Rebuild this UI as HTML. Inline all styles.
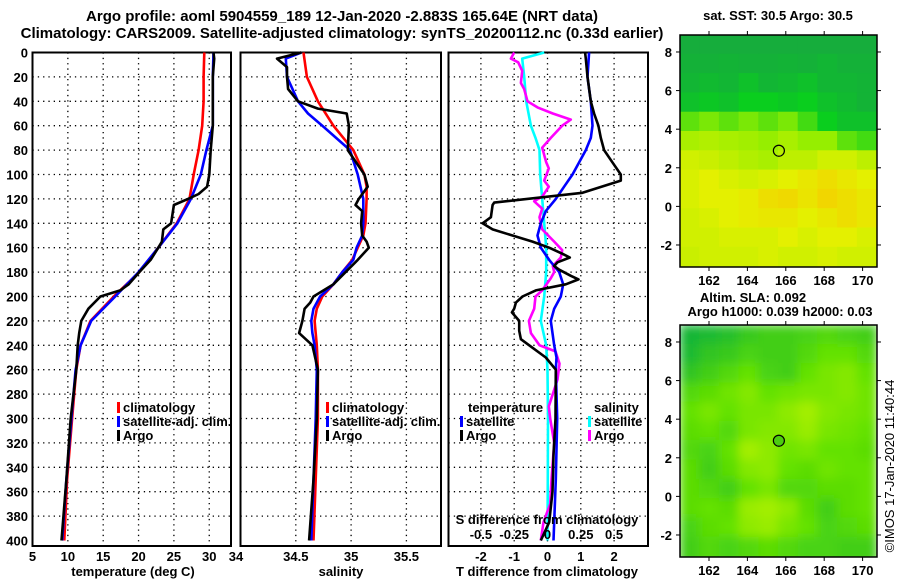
<!DOCTYPE html>
<html><head><meta charset="utf-8"><style>
body{margin:0;background:#fff}
svg{display:block}
text{font-family:"Liberation Sans",Arial,sans-serif;font-weight:bold;font-size:13px;fill:#000}
</style></head><body>
<svg id="c" width="900" height="580" viewBox="0 0 900 580" xmlns="http://www.w3.org/2000/svg">
<text x="342" y="21" text-anchor="middle" style="font-size:15px">Argo profile: aoml 5904559_189 12-Jan-2020 -2.883S 165.64E (NRT data)</text>
<text x="342" y="38" text-anchor="middle" style="font-size:15px">Climatology: CARS2009. Satellite-adjusted climatology: synTS_20200112.nc (0.33d earlier)</text>
<g id="layer"></g>
</svg>
<script>
// ---- depth grid
const depthTicks=[0,20,40,60,80,100,120,140,160,180,200,220,240,260,280,300,320,340,360,380,400];
// ---- temperature panel data
const tClimDepth=[0,20,40,60,80,100,120,140,160,180,200,220,240,260,300,350,400];
const tClim=[29.3,29.2,29.2,29.0,28.5,27.8,27.2,25.4,22.8,20.1,16.5,13.2,11.8,11.2,10.6,9.9,9.5];
const tSatDepth=[0,20,40,60,80,100,120,140,160,180,200,220,240,260,300,350,400];
const tSat=[30.6,30.5,30.5,30.5,29.6,28.8,27.4,25.5,22.8,20.0,16.7,13.3,11.8,11.1,10.5,9.8,9.2];
const tArgoDepth=[0,5,20,40,60,80,100,110,116,120,125,140,145,155,160,170,180,190,195,200,210,220,230,240,260,300,350,400];
const tArgo=[30.6,30.7,30.5,30.5,30.5,30.2,30.0,29.7,28.5,27.0,25.0,24.6,23.5,23.3,22.8,21.7,20.1,18.6,17.4,14.6,12.9,11.9,11.6,11.4,11.2,10.4,9.8,9.1];
const tTicks=[5,10,15,20,25,30];
// ---- salinity panel data
const sClimDepth=[0,20,40,60,80,100,110,120,140,150,160,170,180,190,200,210,220,230,240,260,300,350,400];
const sClim=[34.57,34.60,34.70,34.84,35.02,35.12,35.14,35.14,35.13,35.11,35.06,35.01,34.92,34.84,34.74,34.69,34.67,34.68,34.69,34.70,34.70,34.68,34.66];
const sSatDepth=[0,5,20,40,50,60,80,100,120,140,150,160,170,180,190,200,210,220,230,240,260,300,350,400];
const sSat=[34.55,34.41,34.42,34.52,34.61,34.74,34.99,35.06,35.11,35.11,35.10,35.05,35.02,34.92,34.84,34.72,34.66,34.64,34.65,34.67,34.69,34.68,34.66,34.64];
const sArgoDepth=[0,5,12,20,30,40,46,50,60,80,100,110,120,125,130,140,150,155,160,170,180,190,200,205,210,220,230,240,260,300,350,400];
const sArgo=[34.55,34.33,34.42,34.42,34.43,34.52,34.70,34.96,34.98,34.97,35.12,35.15,35.07,35.04,35.10,35.09,35.10,35.14,35.16,35.06,34.95,34.84,34.66,34.63,34.58,34.56,34.53,34.65,34.70,34.69,34.66,34.62];
const sTicks=[34,34.5,35,35.5];
// ---- difference panel data
const dTSatDepth=[0,20,40,60,70,80,100,110,120,130,140,150,160,170,180,190,200,210,220,240,250,260,300,350,400];
const dTSat=[1.25,1.2,1.3,1.35,1.3,1.15,0.75,0.5,0.25,-0.05,-0.2,-0.3,-0.2,0.05,0.35,0.47,0.4,0.2,0.1,0.2,0.27,0.25,0.29,0.25,0.18];
const dTArgoDepth=[0,5,20,40,50,60,70,80,90,100,105,115,123,125,135,140,145,150,155,160,165,168,172,175,178,183,186,190,195,200,205,210,213,220,228,235,240,250,260,300,330,360,385,400];
const dTArgo=[1.13,1.15,1.2,1.3,1.4,1.53,1.6,1.7,1.95,2.2,2.2,1.05,-1.6,-1.65,-1.7,-1.95,-1.65,-1.05,-0.45,0.05,0.45,0.67,0.3,0.2,0.35,0.7,0.93,0.55,-0.35,-0.75,-0.95,-1.0,-1.07,-0.85,-0.85,-0.8,-0.55,-0.05,0.25,0.24,0.18,0.15,0.05,-0.2];
const dSSatDepth=[0,5,20,40,60,70,80,100,120,140,160,180,200,220,240,260,300,350,400];
const dSSat=[-0.025,-0.19,-0.175,-0.16,-0.125,-0.09,-0.06,-0.055,-0.04,-0.025,-0.01,-0.01,-0.025,-0.05,-0.01,0,0.004,0.002,0];
const dSArgoDepth=[0,5,8,15,25,30,40,45,50,55,60,70,78,90,95,105,110,118,122,128,135,145,155,162,168,175,180,185,195,200,210,220,230,240,245,255,268,290,300,320,350,370,385,400];
const dSArgo=[-0.25,-0.275,-0.22,-0.19,-0.2,-0.175,-0.15,-0.075,0.04,0.175,0.11,0.025,-0.04,-0.01,0.01,-0.025,0.01,-0.04,-0.1,-0.04,-0.06,-0.04,0.05,0.11,0.1,0.04,0.05,0.025,-0.04,-0.09,-0.1,-0.14,-0.125,-0.06,0.06,0.09,0.075,0.01,0.02,0.05,0.03,0.02,-0.03,-0.05];
const dTTicks=[-2,-1,0,1,2];
const dSTickVals=[-0.5,-0.25,0,0.25,0.5];
const dSTickLabels=["-0.5","-0.25","0","0.25","0.5"];
// ---- maps
const lonTicks=[162,164,166,168,170];
const latTicks=[8,6,4,2,0,-2];
const sstGrid=[
[0.05,0.05,0.05,0.05,0.05,0.05,0.05,0.05,0.05,0.05],
[0.08,0.08,0.1,0.08,0.08,0.1,0.08,0.12,0.08,0.08],
[0.12,0.15,0.12,0.2,0.12,0.15,0.2,0.12,0.12,0.1],
[0.2,0.25,0.2,0.3,0.3,0.25,0.3,0.2,0.15,0.1],
[0.45,0.5,0.45,0.5,0.45,0.5,0.4,0.3,0.2,0.2],
[0.6,0.62,0.6,0.58,0.55,0.6,0.55,0.55,0.45,0.4],
[0.7,0.68,0.65,0.62,0.6,0.65,0.65,0.7,0.7,0.65],
[0.72,0.75,0.72,0.7,0.72,0.75,0.8,0.85,0.8,0.75],
[0.72,0.75,0.75,0.78,0.85,0.88,0.82,0.9,0.85,0.8],
[0.7,0.72,0.75,0.78,0.8,0.8,0.75,0.8,0.85,0.8],
[0.7,0.7,0.72,0.72,0.72,0.75,0.72,0.75,0.75,0.72],
[0.68,0.7,0.7,0.7,0.72,0.7,0.7,0.72,0.7,0.7]];
const slaGrid=[
[0.05,0.1,0.15,0.25,0.3,0.3,0.35,0.4,0.35,0.3],
[0.1,0.2,0.25,0.35,0.3,0.3,0.4,0.5,0.5,0.4],
[0.2,0.3,0.4,0.5,0.35,0.3,0.5,0.6,0.65,0.5],
[0.4,0.45,0.55,0.65,0.5,0.55,0.6,0.6,0.65,0.55],
[0.5,0.6,0.5,0.6,0.6,0.7,0.8,0.65,0.6,0.55],
[0.45,0.5,0.4,0.6,0.65,0.65,0.75,0.6,0.55,0.5],
[0.4,0.35,0.5,0.8,0.7,0.55,0.6,0.5,0.5,0.45],
[0.45,0.3,0.45,0.65,0.7,0.5,0.45,0.55,0.5,0.5],
[0.45,0.4,0.3,0.5,0.6,0.4,0.4,0.45,0.45,0.5],
[0.45,0.5,0.45,0.75,0.8,0.7,0.45,0.3,0.45,0.5],
[0.35,0.45,0.5,0.7,0.75,0.6,0.5,0.35,0.4,0.45],
[0.3,0.4,0.35,0.4,0.45,0.4,0.35,0.35,0.3,0.3]];
const argoLon=165.64, argoLat=2.883;

const NS='http://www.w3.org/2000/svg';
const L=document.getElementById('layer');
function mk(tag,attrs,parent){const e=document.createElementNS(NS,tag);for(const k in attrs)e.setAttribute(k,attrs[k]);(parent||L).appendChild(e);return e;}
function txt(x,y,s,anchor,parent){const e=mk('text',{x:x,y:y,'text-anchor':anchor||'middle'},parent);e.textContent=s;return e;}

const yTop=52.5, yBot=546;
const yD=d=>yTop+d*1.22;

function panel(name,x0,x1,xScale,xGrid){
  const g=mk('g',{});
  
  
  xGrid.forEach(v=>{const x=xScale(v);if(x>x0+2&&x<x1-2){const l=mk('line',{x1:x,y1:yTop,x2:x,y2:yBot,stroke:'#000','stroke-width':1.3,'stroke-dasharray':'1.3 4'},g);}});
  depthTicks.forEach(d=>{if(d>0&&d<400){const y=yD(d);const l=mk('line',{x1:x0,y1:y,x2:x1,y2:y,stroke:'#000','stroke-width':1.3,'stroke-dasharray':'1.3 4'},g);}});
  const r=mk('rect',{x:x0,y:yTop,width:x1-x0,height:yBot-yTop,fill:'none',stroke:'#000','stroke-width':2},g);
  
  return g;
}
function series(g,depths,vals,xScale,color,name){
  const pts=vals.map((v,i)=>xScale(v).toFixed(1)+','+yD(depths[i]).toFixed(1)).join(' ');
  const p=mk('polyline',{points:pts,fill:'none',stroke:color,'stroke-width':2.6,'stroke-linejoin':'round'},g);
  
  
}
function legend(g,x,y,color,label,name){
  const m=mk('rect',{x:x,y:y-10,width:3,height:11,fill:color},g);
  
  const t=txt(x+6,y,label,'start',g);
  
}

depthTicks.forEach(d=>{const t=txt(28,yD(d)+5,String(d),'end');});

// Panel 1 temperature
const xT=v=>32.5+(v-5)*7.07;
const g1=panel('temperature',32.5,231,xT,tTicks);
series(g1,tClimDepth,tClim,xT,'#f00','temperature-climatology-line');
series(g1,tSatDepth,tSat,xT,'#00f','temperature-satellite-line');
series(g1,tArgoDepth,tArgo,xT,'#000','temperature-argo-line');
tTicks.forEach(v=>{const t=txt(xT(v),561,String(v));});
let a=txt(133,576,'temperature (deg C)');
legend(g1,117,412,'#f00','climatology','legend-climatology');
legend(g1,117,426,'#00f','satellite-adj. clim.','legend-satellite-adj');
legend(g1,117,440,'#000','Argo','legend-argo');

// Panel 2 salinity
const xS=v=>240.5+(v-34)*110.6;
const g2=panel('salinity',240.5,441,xS,sTicks);
series(g2,sClimDepth,sClim,xS,'#f00','salinity-climatology-line');
series(g2,sSatDepth,sSat,xS,'#00f','salinity-satellite-line');
series(g2,sArgoDepth,sArgo,xS,'#000','salinity-argo-line');
sTicks.forEach(v=>{const t=txt(v===34?236:xS(v),561,String(v));});
a=txt(341,576,'salinity');
legend(g2,326,412,'#f00','climatology','legend-climatology-2');
legend(g2,326,426,'#00f','satellite-adj. clim.','legend-satellite-adj-2');
legend(g2,326,440,'#000','Argo','legend-argo-2');

// Panel 3 differences
const xDT=v=>547.5+v*33.3;
const xDS=v=>547.5+v*133.2;
const g3=panel('difference',448.5,648,xDT,dTTicks);
series(g3,dSSatDepth,dSSat,xDS,'#0ff','salinity-diff-satellite-line');
series(g3,dSArgoDepth,dSArgo,xDS,'#f0f','salinity-diff-argo-line');
series(g3,dTSatDepth,dTSat,xDT,'#00f','temperature-diff-satellite-line');
series(g3,dTArgoDepth,dTArgo,xDT,'#000','temperature-diff-argo-line');
dTTicks.forEach(v=>{const t=txt(xDT(v),561,String(v));});
dSTickVals.forEach((v,i)=>{const t=txt(xDS(v),539,dSTickLabels[i]);});
a=txt(547,524,'S difference from climatology');
a=txt(547,576,'T difference from climatology');
a=txt(468,412,'temperature','start');
a=txt(594,412,'salinity','start');
legend(g3,460,426,'#00f','satellite','legend-t-satellite');
legend(g3,460,440,'#000','Argo','legend-t-argo');
legend(g3,588,426,'#0ff','satellite','legend-s-satellite');
legend(g3,588,440,'#f0f','Argo','legend-s-argo');

// Maps
function lerp(c1,c2,t){return c1.map((v,i)=>Math.round(v+(c2[i]-v)*t));}
function cmap(stops,v){for(let i=1;i<stops.length;i++){if(v<=stops[i][0]){const t=(v-stops[i-1][0])/(stops[i][0]-stops[i-1][0]);const c=lerp(stops[i-1][1],stops[i][1],t);return 'rgb('+c.join(',')+')';}}const c=stops[stops.length-1][1];return 'rgb('+c.join(',')+')';}
const sstStops=[[0,[24,166,66]],[0.3,[10,206,30]],[0.55,[150,238,0]],[0.75,[228,240,0]],[1,[250,196,0]]];
const slaStops=[[0,[14,176,60]],[0.5,[100,226,0]],[1,[205,246,0]]];
const defs=mk('defs',{});const f=mk('filter',{id:'blur',x:'-5%',y:'-5%',width:'110%',height:'110%'},defs);mk('feGaussianBlur',{stdDeviation:5},f);
function mapPanel(name,y0,grid,stops,blur,titles){
  const x0=680,x1=877,h=232,y1=y0+h;
  const lonS=v=>x0+(v-160.49)*19.2;
  const latS=v=>y0+(8.88-v)*19.3;
  const g=mk('g',{});
  
  
  const cid='clip-'+name;
  const cp=mk('clipPath',{id:cid},g);mk('rect',{x:x0,y:y0,width:x1-x0,height:h},cp);
  const inner=mk('g',{'clip-path':'url(#'+cid+')'},g);
  const cells=mk('g',blur?{filter:'url(#blur)'}:{},inner);
  const cw=(x1-x0)/grid[0].length, ch=19.3;
  grid.forEach((row,r)=>row.forEach((v,c)=>{
    const e=mk('rect',{x:(x0+c*cw-0.5).toFixed(1),y:(y0+r*ch-0.5).toFixed(1),width:(cw+1).toFixed(1),height:(r===grid.length-1?ch+10:ch+1).toFixed(1),fill:cmap(stops,v)},cells);
    
    
  }));
  const circ=mk('circle',{cx:lonS(argoLon),cy:latS(argoLat),r:5.5,fill:blur?'#4ccc10':'none',stroke:'#000','stroke-width':1.2},g);
  
  const fr=mk('rect',{x:x0,y:y0,width:x1-x0,height:h,fill:'none',stroke:'#000','stroke-width':1.5},g);
  
  lonTicks.forEach(v=>{const x=lonS(v);mk('line',{x1:x,y1:y0-4,x2:x,y2:y0,stroke:'#000'},g);mk('line',{x1:x,y1:y1,x2:x,y2:y1+4,stroke:'#000'},g);
    const t=txt(x,y1+18,String(v),'middle',g);});
  latTicks.forEach(v=>{const y=latS(v);mk('line',{x1:x0-4,y1:y,x2:x0,y2:y,stroke:'#000'},g);mk('line',{x1:x1,y1:y,x2:x1+4,y2:y,stroke:'#000'},g);
    const t=txt(672,y+5,String(v),'end',g);});
  titles.forEach(tt=>{const t=txt(tt[0],tt[1],tt[2],'middle',g);});
}
mapPanel('sst-map',35,sstGrid,sstStops,false,[[778,20,'sat. SST: 30.5 Argo: 30.5','sst-map-title']]);
mapPanel('sla-map',325,slaGrid,slaStops,true,[[753,302,'Altim. SLA: 0.092','sla-map-title'],[780,316,'Argo h1000: 0.039 h2000: 0.03','sla-map-subtitle']]);
const cr=txt(0,0,'©IMOS 17-Jan-2020 11:40:44','middle');
cr.setAttribute('transform','translate(894,466) rotate(-90)');
cr.setAttribute('style','font-weight:normal;font-size:13px');


</script>
</body></html>
